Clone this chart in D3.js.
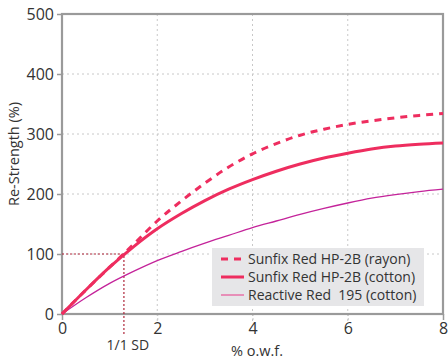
<!DOCTYPE html>
<html><head><meta charset="utf-8">
<script src="https://cdn.jsdelivr.net/npm/d3@7"></script>
<style>
body{margin:0;background:#fff;}
svg text{font-family:"Open Sans","Noto Sans",sans-serif;fill:#333;}
</style></head>
<body><svg id="c" width="448" height="362"></svg>
<script>
const owf = [0,0.5,1,1.5,2,2.5,3,3.5,4,4.5,5,5.5,6,6.5,7,7.5,8];
const sunfixRayon  = [0,40,78,116,155,188,218,245,267,284,298,308,316,322,327,331,334];
const sunfixCotton = [0,40,78,112,142,167,189,208,224,238,250,260,268,275,280,283,285];
const reactive195  = [0,27,51,71,89,104,118,131,144,155,166,176,185,193,199,204,208];
const xTicks = [0,2,4,6,8];
const yTicks = [0,100,200,300,400,500];
const seriesNames = ["Sunfix Red HP-2B (rayon)","Sunfix Red HP-2B (cotton)","Reactive Red  195 (cotton)"];
const sdX = 1.3, sdY = 100;

const svg = d3.select("#c");
const L=62, R=443, T=14, B=314;
const x = d3.scaleLinear().domain([0,8]).range([L,R]);
const y = d3.scaleLinear().domain([0,500]).range([B,T]);
const grid="#c8c8c8", axisC="#9a9a9a";

// gridlines
svg.append("g").selectAll("line").data(yTicks.filter(d=>d>0&&d<500)).join("line")
  .attr("x1",L).attr("x2",R).attr("y1",d=>y(d)).attr("y2",d=>y(d))
  .attr("stroke",grid).attr("stroke-width",1).attr("stroke-dasharray","2,3");
svg.append("g").selectAll("line").data(xTicks.filter(d=>d>0&&d<8)).join("line")
  .attr("x1",d=>x(d)).attr("x2",d=>x(d)).attr("y1",T).attr("y2",B+7)
  .attr("stroke",grid).attr("stroke-width",1).attr("stroke-dasharray","2,3");

// axes
const xa = svg.append("g").attr("transform",`translate(0,${B})`)
  .call(d3.axisBottom(x).tickValues(xTicks).tickSize(6).tickPadding(3));
const ya = svg.append("g").attr("transform",`translate(${L},0)`)
  .call(d3.axisLeft(y).tickValues(yTicks).tickSize(5).tickPadding(3));
[xa,ya].forEach(a=>{
  a.select(".domain").remove();
  a.selectAll(".tick line").attr("stroke",axisC).attr("stroke-width",1.5);
  a.selectAll(".tick text").attr("font-size",16).attr("fill","#333")
   .style("font-family","'Open Sans','Noto Sans',sans-serif");
});
xa.selectAll(".tick line").filter(d=>d>0&&d<8).attr("stroke",grid).attr("stroke-dasharray","2,2").attr("stroke-width",1);

// frame
svg.append("rect").attr("x",L).attr("y",T).attr("width",R-L).attr("height",B-T)
  .attr("fill","none").attr("stroke",axisC).attr("stroke-width",2.2);

// SD guide
svg.append("path")
  .attr("d",`M${x(0)},${y(sdY)}H${x(sdX)}V${B+21}`)
  .attr("fill","none").attr("stroke","#b0283c").attr("stroke-width",1.2).attr("stroke-dasharray","2,2");
svg.append("text").attr("x",x(sdX)+4).attr("y",350).attr("text-anchor","middle")
  .attr("font-size",14).text("1/1 SD");

// curves
const line = d3.line().x((d,i)=>x(owf[i])).y(d=>y(d)).curve(d3.curveMonotoneX);
const styles = [
  {data:sunfixRayon, color:"#ee2d5f", w:3, dash:"7,6"},
  {data:sunfixCotton, color:"#ee2d5f", w:3, dash:null},
  {data:reactive195, color:"#c4239a", w:1.3, dash:null}
];
styles.slice().reverse().forEach(s=>{
  svg.append("path").attr("d",line(s.data)).attr("fill","none")
    .attr("stroke",s.color).attr("stroke-width",s.w)
    .attr("stroke-dasharray",s.dash);
});

// axis titles
svg.append("text").attr("transform","translate(19,154) rotate(-90)")
  .attr("text-anchor","middle").attr("font-size",14.5).text("Re-Strength (%)");
svg.append("text").attr("x",257).attr("y",356).attr("text-anchor","middle")
  .attr("font-size",14.5).text("% o.w.f.");

// legend
const lg = svg.append("g");
lg.append("rect").attr("x",212).attr("y",248).attr("width",212).attr("height",58).attr("fill","#e6e6e8");
const legCols = ["#ee2d5f","#ee2d5f","#e8609e"];
const legW = [3,3,1.3];
const legDash = ["7,6",null,null];
seriesNames.forEach((n,i)=>{
  const yy = 259+i*18;
  lg.append("line").attr("x1",221).attr("x2",244).attr("y1",yy).attr("y2",yy)
    .attr("stroke",legCols[i]).attr("stroke-width",legW[i]).attr("stroke-dasharray",legDash[i]);
  lg.append("text").attr("x",248).attr("y",yy+5).attr("font-size",14).attr("fill","#222")
    .style("white-space","pre").text(n);
});
</script></body></html>
